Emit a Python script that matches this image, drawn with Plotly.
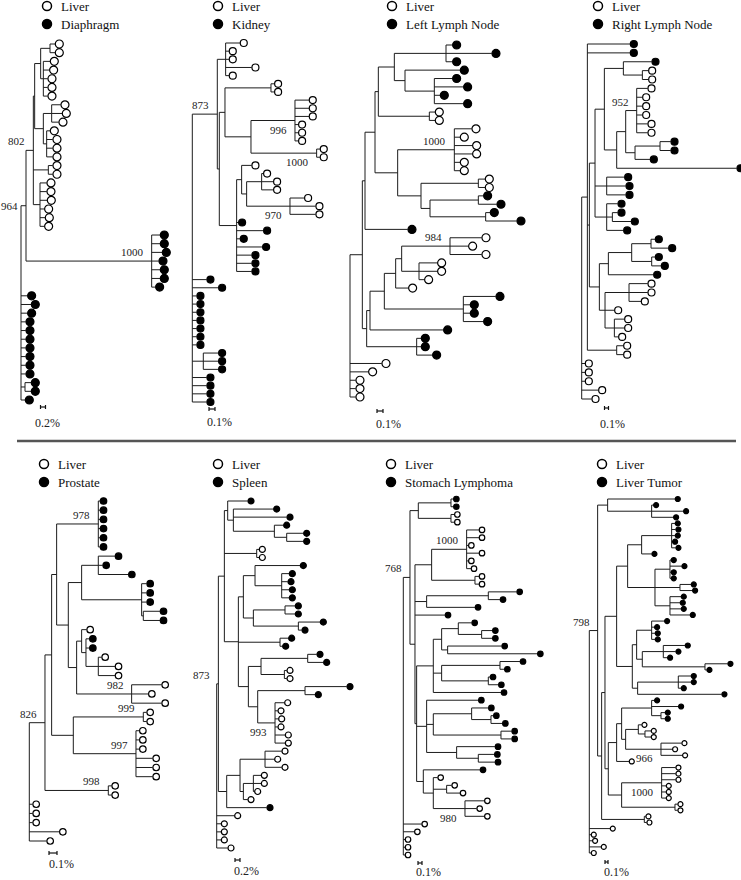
import plotly.graph_objects as go

W, H = 741, 880
FONT = "Liberation Serif"

# ---------------- data ----------------
tissues = ["Diaphragm", "Kidney", "Left Lymph Node", "Right Lymph Node",
           "Prostate", "Spleen", "Stomach Lymphoma", "Liver Tumor"]
scale_labels = ["0.2%", "0.1%", "0.1%", "0.1%", "0.1%", "0.2%", "0.1%", "0.1%"]

# Trees: leaves L = Liver, T = tissue; number after ':' = distance from root
# (units of 1/3 px in the original figure); internal labels = bootstrap values.
tree_diaphragm = (
    "((((((L:102,L:102):87,(L:87,L:85,L:80,L:80,L:80):67):59,"
    "((L:119,L:123,L:113):92,(L:87,L:95,L:95,L:95):77):67):41,"
    "(L:95,L:95):82,(L:77,L:77,L:78,L:70,L:72,L:70):57)802:37,"
    "(T:417,T:417,T:423,T:413,T:417,T:417,T:403)1000:392)964:15,"
    "T:19,T:30,T:19,T:14,T:14,T:14,T:14,T:14,T:14,T:14,(T:30,T:30):12,T:12):0"
)
tree_kidney = (
    "(((L:143,L:110,L:110,L:178,L:110):100,"
    "(((L:246,L:246):236,((L:350,L:350,L:350,L:318,L:318,L:318)996:308,"
    "(L:383,L:383)1000:373):176):98,"
    "((L:178,((L:213,L:243,L:243):208,(L:336,L:370,L:370)970:293):163):148,"
    "T:138,T:213,T:143,T:210,T:178,T:178,T:178):133):81)873:75,"
    "T:43,T:78,T:13,T:13,T:13,T:13,T:13,T:13,T:13,(T:78,T:78,T:78):33,"
    "T:43,T:43,T:43,T:43):0"
)
tree_left_ln = (
    "(((((((T:307,T:425,T:307):288,(T:330,(T:307,T:340,T:270,T:340):253):165):133,"
    "(L:255,L:255):238):85,"
    "((L:365,L:330,L:367,L:367,L:330,L:330)1000:313,"
    "((L:405,L:405):385,((T:400,T:440):385,(T:420,T:500):407):240):213):143):75,"
    "T:173):45,"
    "((((((L:395,L:355,L:395)984:300,(L:262,L:262,L:223):207):155,L:175):137,"
    "(T:437,T:360,T:360,T:400):340):103,T:280):60,(T:213,T:213,T:247):200):50):37,"
    "L:95,L:55,L:17,L:17,L:17):0"
)
tree_right_ln = (
    "((T:145,T:145,"
    "((((T:210,(L:200,L:200):182):125,"
    "(((L:198,L:182,L:182,L:182,L:198,L:198)952:165,((T:267,T:267):235,T:205):160):132,"
    "T:465):105):68,"
    "(T:128,T:132,T:132):75,(T:108,(T:108,T:148):92,T:125):75):40,"
    "((((T:220,T:260):208,(T:220,T:238):210):150,T:215):80,"
    "((L:198,L:198,L:178):142,L:98,(L:128,L:128,L:110):98):70):53):23,"
    "(L:125,L:125):105):17,"
    "L:10,L:10,L:10,L:50,L:30):0"
)
tree_prostate = (
    "(((((T:212,T:212,T:212,T:212,T:212,T:212)978:207,"
    "(((T:257,T:220,T:297):207,(T:352,T:352,T:352,(T:392,T:392):342):337):157,"
    "((L:172,(T:180,T:180,(L:217,L:257,L:257):207):170):157,"
    "(L:397,L:357,L:397)982:307):142):117):82,"
    "((L:352,L:352)999:342,(L:330,L:330,L:330,L:370,L:370,L:370)997:320):132):67,"
    "(L:247,L:247)998:237)826:47,"
    "L:10,L:10,L:10,L:90,L:52):0"
)
tree_spleen = (
    "((((T:93,(T:170,T:210,(T:200,(T:260,T:260):210):173):50):33,"
    "(L:127,L:127):120,"
    "(((T:250,(T:217,T:213,T:217,T:217):195):115,((T:235,T:235):205,(T:310,T:255):245):110):80,"
    "(T:215,T:197):190,"
    "(((T:300,T:320):273,(L:210,L:210):203):133,"
    "((T:390,T:295):265,(L:203,L:183,L:185,L:183,L:205,L:205)993:175):123):95):65):23,"
    "(((L:195,L:173,L:195):145,((L:133,L:133,L:113):110,L:93):80):70,T:150):30)873:5,"
    "L:53,L:13,L:13,L:13,L:33):0"
)
tree_stomach = (
    "((((T:150,T:150):143,(L:153,L:153):143):45,"
    "(((L:227,L:227,L:195,L:227,L:195,L:203)1000:190,(L:227,L:227):215):85,"
    "((T:340,T:290):255,T:215):70,T:125,"
    "((((T:205,(T:267,T:267):235):165,(T:295,T:402):133):115,"
    "((T:350,T:303):290,(T:260,T:285):255):115,T:293):90,"
    "(T:225,((T:255,(T:270,T:297):263):205,(T:325,T:325):293):90,"
    "(T:275,(T:273,T:275):225):160):70,"
    "(T:230,(L:103,(L:145,L:170):130,(L:243,L:220,L:243)980:185):90):60):40):35)768:20,"
    "L:55,L:33,L:5,L:5,L:5):0"
)
tree_liver_tumor = (
    "(((T:257,(T:192,T:282,T:252):187):55,"
    "((((((T:257,T:259,T:257,T:249,T:259):247,T:187):157,"
    "((T:245,T:277,T:245,T:245):242,(T:305,T:309):272,(T:275,T:272,T:275,T:302):242):197):115,"
    "(((T:225,T:195,T:197,T:197):187,((T:287,T:259,T:234):222,(T:415,T:352):347):159):142,"
    "((T:305,T:305,T:275):267,T:397):145):129):82,"
    "((((T:195,T:267,(T:227,T:227):215):187,"
    "((L:157,(L:185,L:185):167):147,(L:277,L:249,L:279)966:215):109):97,L:119):82,"
    "((L:259,L:259,L:259,L:230,L:230,L:230)1000:217,(L:265,L:265):257):97):57):47,"
    "(L:169,L:172):165):37)798:25,"
    "L:62,L:5,L:9,L:35,L:5):0"
)
trees = [tree_diaphragm, tree_kidney, tree_left_ln, tree_right_ln,
         tree_prostate, tree_spleen, tree_stomach, tree_liver_tumor]

# ---------------- layout / style ----------------
PX = 1 / 3.0                       # pixels per tree unit
root_x = [21, 192.3, 350, 581.7, 29.3, 216.7, 403.3, 589.3]
leaf_top = [44, 43, 45, 44, 501, 501, 499, 499]
leaf_bot = [400, 402, 397, 399, 841, 848, 855, 853]
marker_d = [8, 7, 8, 7, 6.5, 6, 5.5, 5]
legend_cx = [47, 218, 392, 598, 44, 218, 391, 602]
legend_cy = [6, 6, 6, 6, 464, 464, 464, 464]
bar_x0 = [40.5, 209, 377, 604.5, 49, 235, 418, 605]
bar_x1 = [45.5, 215, 383, 608.5, 57, 240, 422, 608]
bar_y = [407, 409, 411, 408, 853, 860, 863, 862]
slab_x = [47, 219, 388, 612, 61, 246, 428, 616]
slab_y = [423, 422, 424, 424, 864, 871, 872, 872]
label_below = [set(), {"996", "1000", "970"}, set(), set(),
               set(), {"993"}, {"980"}, {"966", "1000"}]
label_middle = [{"964"}, set(), set(), set(), set(), set(), set(), set()]
LINE = "#1c1c1c"


def parse(s):
    s = s.replace(" ", "")
    pos = 0

    def node():
        nonlocal pos
        children = []
        if s[pos] == "(":
            pos += 1
            children.append(node())
            while s[pos] == ",":
                pos += 1
                children.append(node())
            pos += 1  # ')'
        start = pos
        while pos < len(s) and s[pos] not in ":,)":
            pos += 1
        name = s[start:pos]
        depth = 0.0
        if pos < len(s) and s[pos] == ":":
            pos += 1
            start = pos
            while pos < len(s) and s[pos] not in ",)":
                pos += 1
            depth = float(s[start:pos])
        return {"name": name, "depth": depth, "children": children}

    return node()


def layout_tree(root):
    leaves, sx, sy, labels = [], [], [], []

    def walk(n):
        if not n["children"]:
            n["y"] = len(leaves)
            leaves.append(n)
            return
        for c in n["children"]:
            walk(c)
        ys = [c["y"] for c in n["children"]]
        n["y"] = (ys[0] + ys[-1]) / 2.0
        sx.extend([n["depth"], n["depth"], None])
        sy.extend([ys[0], ys[-1], None])
        for c in n["children"]:
            sx.extend([n["depth"], c["depth"], None])
            sy.extend([c["y"], c["y"], None])
        if n["name"]:
            labels.append((n["name"], n["depth"], n["y"]))

    walk(root)
    return leaves, sx, sy, labels


fig = go.Figure()
annotations = []
layout_axes = {}

for p, tree in enumerate(trees):
    k = p + 1
    xa = "x" if k == 1 else f"x{k}"
    ya = "y" if k == 1 else f"y{k}"
    leaves, sx, sy, labels = layout_tree(parse(tree))
    n = len(leaves)
    sp = (leaf_bot[p] - leaf_top[p]) / (n - 1)
    layout_axes["xaxis" if k == 1 else f"xaxis{k}"] = dict(
        domain=[0, 1], range=[(0 - root_x[p]) / PX, (W - root_x[p]) / PX],
        visible=False, fixedrange=True, anchor=ya)
    layout_axes["yaxis" if k == 1 else f"yaxis{k}"] = dict(
        domain=[0, 1], range=[(H - leaf_top[p]) / sp, (0 - leaf_top[p]) / sp],
        visible=False, fixedrange=True, anchor=xa)

    fig.add_trace(go.Scatter(x=sx, y=sy, mode="lines", xaxis=xa, yaxis=ya,
                             line=dict(color=LINE, width=1), hoverinfo="skip",
                             showlegend=False))
    off = (marker_d[p] / 2.0 + 0.3) / PX
    for kind, fill in (("L", "white"), ("T", "black")):
        xs = [lf["depth"] + off for lf in leaves if lf["name"] == kind]
        ys = [lf["y"] for lf in leaves if lf["name"] == kind]
        fig.add_trace(go.Scatter(
            x=xs, y=ys, mode="markers", xaxis=xa, yaxis=ya, showlegend=False,
            hoverinfo="skip", cliponaxis=False,
            marker=dict(symbol="circle", size=marker_d[p], color=fill,
                        line=dict(color="black", width=1.2))))
    for name, d, y in labels:
        if name in label_below[p]:
            ya_, ys_ = "top", 1
        elif name in label_middle[p]:
            ya_, ys_ = "middle", 0
        else:
            ya_, ys_ = "bottom", -1
        annotations.append(dict(
            x=d, y=y, xref=xa, yref=ya, text=name, showarrow=False,
            xanchor="right", yanchor=ya_, xshift=-6, yshift=-ys_,
            font=dict(family=FONT, size=11, color="#222")))

# decoration axis covering whole figure (pixel units)
layout_axes["xaxis9"] = dict(domain=[0, 1], range=[0, W], visible=False,
                             fixedrange=True, anchor="y9")
layout_axes["yaxis9"] = dict(domain=[0, 1], range=[H, 0], visible=False,
                             fixedrange=True, anchor="x9")

# legends
for p in range(8):
    for row, (fill, txt) in enumerate((("white", "Liver"), ("black", tissues[p]))):
        cy = legend_cy[p] + row * 18
        fig.add_trace(go.Scatter(
            x=[legend_cx[p]], y=[cy], mode="markers", xaxis="x9", yaxis="y9",
            showlegend=False, hoverinfo="skip", cliponaxis=False,
            marker=dict(symbol="circle", size=9, color=fill,
                        line=dict(color="black", width=1.5))))
        annotations.append(dict(
            x=legend_cx[p] + 12, y=cy, xref="x9", yref="y9", text=txt,
            showarrow=False, xanchor="left", yanchor="middle",
            font=dict(family=FONT, size=13, color="#111")))

# scale bars
bx, by = [], []
for p in range(8):
    x0, x1, y = bar_x0[p], bar_x1[p], bar_y[p]
    bx += [x0, x1, None, x0, x0, None, x1, x1, None]
    by += [y, y, None, y - 2, y + 2, None, y - 2, y + 2, None]
    annotations.append(dict(
        x=slab_x[p], y=slab_y[p], xref="x9", yref="y9", text=scale_labels[p],
        showarrow=False, xanchor="center", yanchor="middle",
        font=dict(family=FONT, size=12, color="#222")))
fig.add_trace(go.Scatter(x=bx, y=by, mode="lines", xaxis="x9", yaxis="y9",
                         line=dict(color="#111", width=1.2), showlegend=False,
                         hoverinfo="skip"))

# separator between rows
fig.add_trace(go.Scatter(x=[17, 736], y=[441, 441], mode="lines", xaxis="x9",
                         yaxis="y9", line=dict(color="#555", width=2.5),
                         showlegend=False, hoverinfo="skip"))

fig.update_layout(
    width=W, height=H, margin=dict(l=0, r=0, t=0, b=0),
    paper_bgcolor="white", plot_bgcolor="rgba(0,0,0,0)",
    annotations=annotations, showlegend=False, **layout_axes)

fig.write_html(
    "out.html",
    config={"displayModeBar": False},
    post_script="document.body.style.margin='0';document.body.style.padding='0';")
